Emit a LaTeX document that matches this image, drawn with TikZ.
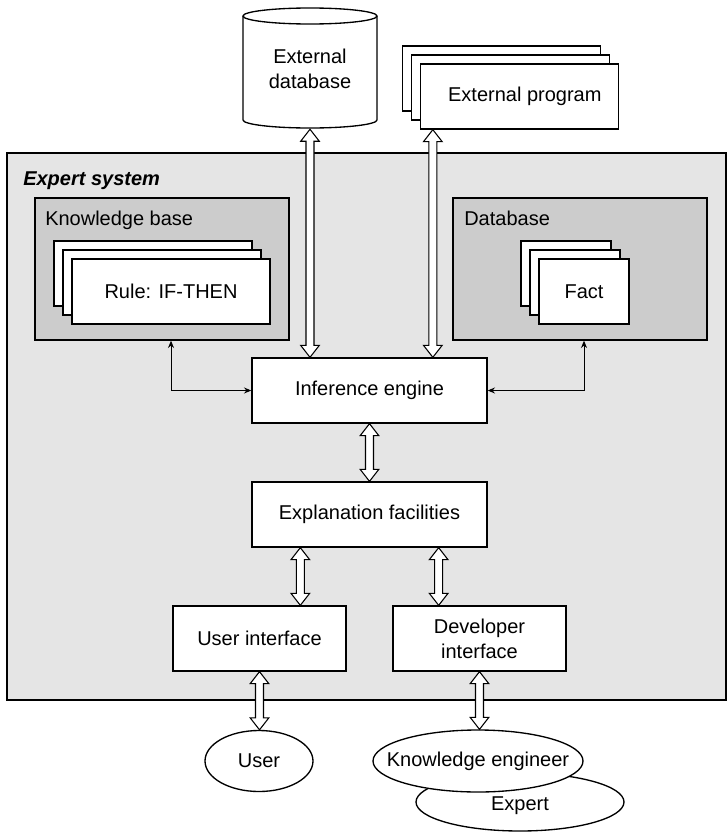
\documentclass[tikz,border=0pt]{standalone}
\usepackage{fontspec}
\setmainfont{Liberation Sans}
\usetikzlibrary{calc,arrows.meta,shapes.geometric}
\definecolor{sysgray}{gray}{0.9}
\definecolor{kbgray}{gray}{0.8}
\newcommand{\dbarrow}[2]{%
  \draw[dblarr] let \p1=(#1), \p2=(#2) in
    (\x1,\y1) -- (\x1+7pt,\y1-9pt) -- (\x1+3pt,\y1-9pt) -- (\x1+3pt,\y2+9pt)
    -- (\x1+7pt,\y2+9pt) -- (\x1,\y2) -- (\x1-7pt,\y2+9pt) -- (\x1-3pt,\y2+9pt)
    -- (\x1-3pt,\y1-9pt) -- (\x1-7pt,\y1-9pt) -- cycle;}
\begin{document}
\begin{tikzpicture}[x=0.75pt,y=-0.75pt,
  every node/.style={font=\fontsize{15}{18.75}\selectfont},
  wbox/.style={draw, fill=white, line width=1pt, inner sep=0pt, align=center},
  panel/.style={draw, line width=1pt, inner sep=0pt},
  ell/.style={draw, ellipse, fill=white, line width=1pt, inner sep=0pt},
  dblarr/.style={draw=black, fill=white, line width=0.8pt, line join=miter},
  thinarr/.style={line width=0.75pt, arrows={Stealth[length=5.5pt,width=4.5pt]-Stealth[length=5.5pt,width=4.5pt]}},
  title/.style={anchor=base west, inner sep=0pt}]
\useasboundingbox (0,0) rectangle (727,832);

% expert system frame
\node[panel, fill=sysgray, minimum width=539.25pt, minimum height=410.25pt] (es) at (366.5,426.5) {};
\node[title, font=\fontsize{15}{18}\selectfont\bfseries\itshape] (estitle) at (23,185) {Expert system};

% knowledge base
\node[panel, fill=kbgray, minimum width=190.5pt, minimum height=106.5pt] (kb) at (162,269) {};
\node[title] (kbtitle) at (45,225) {Knowledge base};
\node[wbox, minimum width=148.5pt, minimum height=48.75pt] (rule3) at (153,273.5) {};
\node[wbox, minimum width=148.5pt, minimum height=48.75pt] (rule2) at (162,282.5) {};
\node[wbox, minimum width=148.5pt, minimum height=48.75pt] (rule) at (171,291.5) {Rule: IF-THEN};

% database
\node[panel, fill=kbgray, minimum width=190.5pt, minimum height=106.5pt] (db) at (580,269) {};
\node[title] (dbtitle) at (464,225) {Database};
\node[wbox, minimum width=67.5pt, minimum height=48.75pt] (fact3) at (566,273.5) {};
\node[wbox, minimum width=67.5pt, minimum height=48.75pt] (fact2) at (575,282.5) {};
\node[wbox, minimum width=67.5pt, minimum height=48.75pt] (fact) at (584,291.5) {Fact};

% external database (cylinder)
\draw[line width=1pt, fill=white] (243,16) -- (243,120)
  arc[start angle=180, end angle=360, x radius=50.25pt, y radius=6pt] -- (377,16);
\draw[line width=1pt, fill=white] (310,16) ellipse [x radius=50.25pt, y radius=6pt];
\node[inner sep=0pt, align=center, minimum width=100.5pt, minimum height=90pt] (extdb) at (310,69) {External\\database};

% external program stack
\node[wbox, minimum width=148.5pt, minimum height=48.75pt] (ep3) at (501.5,78.5) {};
\node[wbox, minimum width=148.5pt, minimum height=48.75pt] (ep2) at (510.5,87.5) {};
\node[wbox, minimum width=148.5pt, minimum height=48.75pt] (ep) at (519.5,96.5) {\hspace*{8pt}External program};

% main boxes
\node[wbox, minimum width=176.25pt, minimum height=48.75pt] (ie) at (369.5,390.5) {Inference engine};
\node[wbox, minimum width=176.25pt, minimum height=48.75pt] (ef) at (369.5,514.5) {Explanation facilities};
\node[wbox, minimum width=129.75pt, minimum height=48.75pt] (ui) at (259.5,638.5) {User interface};
\node[wbox, minimum width=129.75pt, minimum height=48.75pt] (dev) at (479.5,638.5) {Developer\\interface};

% people
\node[ell, minimum width=81pt, minimum height=45.75pt] (user) at (259,761) {};
\node[inner sep=0pt] (usertext) at (user.center) {User};
\node[ell, minimum width=156pt, minimum height=43.5pt] (expert) at (520,802) {};
\node[inner sep=0pt] (experttext) at (520,806) {Expert};
\node[ell, minimum width=157.5pt, minimum height=46.5pt] (ke) at (478,761) {};
\node[inner sep=0pt] (ketext) at (ke.center) {Knowledge engineer};

% helper coordinates
\coordinate (epa) at ($(ep.south west)+(13,0)$);
\coordinate (efl) at ($(ef.south west)+(49,0)$);
\coordinate (efr) at ($(ef.south east)+(-49,0)$);
\coordinate (kbp) at ($(kb.south)+(9,0)$);
\coordinate (dbp) at ($(db.south)+(4,0)$);

% double arrows
\dbarrow{extdb.south}{ie.north -| extdb.south}
\dbarrow{epa}{ie.north -| epa}
\dbarrow{ie.south}{ef.north}
\dbarrow{efl}{ui.north -| efl}
\dbarrow{efr}{dev.north -| efr}
\dbarrow{ui.south}{user.north -| ui.south}
\dbarrow{dev.south}{ke.north -| dev.south}

% thin arrows
\draw[thinarr] (kbp) |- (ie.west);
\draw[thinarr] (dbp) |- (ie.east);
\end{tikzpicture}
\end{document}
